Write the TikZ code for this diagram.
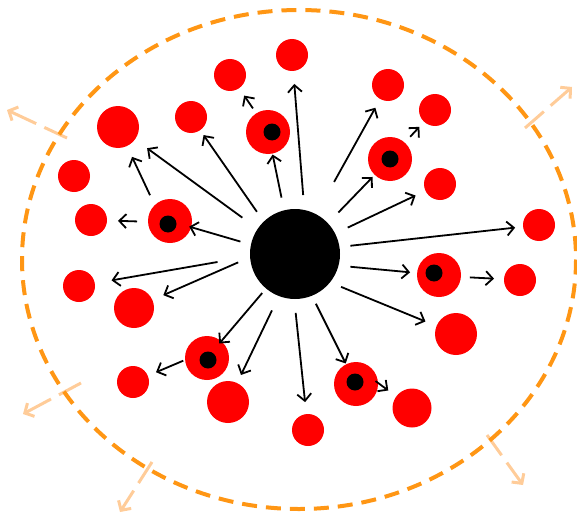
\documentclass[tikz,border=0pt]{standalone}
\usetikzlibrary{arrows.meta}
\definecolor{cellred}{RGB}{255,0,0}
\definecolor{ringorange}{RGB}{255,150,20}
\definecolor{peach}{RGB}{255,204,153}
\tikzset{
  cell/.style={circle, fill=cellred, draw=none, inner sep=0pt, outer sep=0pt, minimum size=#1},
  cell/.default=32pt,
  dotk/.style={circle, fill=black, draw=none, inner sep=0pt, outer sep=0pt, minimum size=17pt},
  arr/.style={line width=1.8pt, -{Straight Barb[length=7pt,width=14pt,line width=1.8pt]}},
  escape/.style={draw=peach, line width=3pt, dash pattern=on 25pt off 9pt on 60pt off 1pt,
     -{Straight Barb[length=7pt,width=15pt,line width=3pt]}},
  boundary/.style={draw=ringorange, line width=4pt, dash pattern=on 15pt off 9pt}
}
\begin{document}
\begin{tikzpicture}[x=1pt,y=-1pt]
\useasboundingbox (0,0) rectangle (577,516);
% escaping arrows
\coordinate (p1s) at (67,138);  \coordinate (p1e) at (7,110);
\coordinate (p2s) at (525,128); \coordinate (p2e) at (572,87);
\coordinate (p3s) at (81,383);  \coordinate (p3e) at (23,414);
\coordinate (p4s) at (152,462); \coordinate (p4e) at (120,512);
\coordinate (p5s) at (487,435); \coordinate (p5e) at (523,485);
\draw[escape] (p1s) -- (p1e);
\draw[escape] (p2s) -- (p2e);
\draw[escape] (p3s) -- (p3e);
\draw[escape] (p4s) -- (p4e);
\draw[escape] (p5s) -- (p5e);
% boundary
\coordinate (E) at (299,259.5);
\draw[boundary] (E) ellipse [x radius=277, y radius=249.5];
% central
\node[circle, fill=black, inner sep=0pt, outer sep=0pt, minimum size=90pt] (C) at (295,254) {};
% cells
\node[cell] (n1) at (230,75) {};
\node[cell=42pt] (n2) at (118,127) {};
\node[cell] (n3) at (191,117) {};
\node[cell] (n4) at (74,176) {};
\node[cell] (n5) at (91,220) {};
\node[cell] (n6) at (292,55) {};
\node[cell] (n7) at (388,85) {};
\node[cell] (n8) at (435,110) {};
\node[cell] (n9) at (440,184) {};
\node[cell] (n10) at (539,225) {};
\node[cell] (n11) at (79,286) {};
\node[cell=40pt] (n12) at (134,308) {};
\node[cell] (n13) at (133,382) {};
\node[cell=42pt] (n14) at (228,402) {};
\node[cell] (n15) at (520,280) {};
\node[cell=42pt] (n16) at (456,334) {};
\node[cell=39pt] (n17) at (412,408) {};
\node[cell] (n18) at (308,430) {};
% infected cells
\node[cell=44pt] (i1) at (170,221) {}; \node[dotk] (k1) at (168,224) {};
\node[cell=44pt] (i2) at (268,132) {}; \node[dotk] (k2) at (272,132) {};
\node[cell=44pt] (i3) at (390,159) {}; \node[dotk] (k3) at (390,159) {};
\node[cell=44pt] (i4) at (207,358) {}; \node[dotk] (k4) at (208,360) {};
\node[cell=44pt] (i5) at (439,275) {}; \node[dotk] (k5) at (434,273) {};
\node[cell=44pt] (i6) at (356,384) {}; \node[dotk] (k6) at (355,382) {};
% arrows
\draw[arr, shorten <=12pt, shorten >=6pt] (C.134) -- (n3);
\draw[arr, shorten <=19pt, shorten >=15pt] (C.146) -- (n2);
\draw[arr, shorten <=11pt, shorten >=12pt] (i1.134) -- (n2);
\draw[arr, shorten <=11pt, shorten >=-2pt] (C.168) -- (i1);
\draw[arr, shorten <=11pt, shorten >=11pt] (i1.182) -- (n5);
\draw[arr, shorten <=13pt, shorten >=1pt] (C.104) -- (i2);
\draw[arr, shorten <=6pt, shorten >=9pt] (i2.122) -- (n1);
\draw[arr, shorten <=15pt, shorten >=13pt] (C.78) -- (n6);
\draw[arr, shorten <=37pt, shorten >=10pt] (C.62) -- (n7);
\draw[arr, shorten <=15pt, shorten >=3pt] (C.43) -- (i3);
\draw[arr, shorten <=8pt, shorten >=7pt] (i3.48) -- (n8);
\draw[arr, shorten <=14pt, shorten >=11pt] (C.27) -- (n9);
\draw[arr, shorten <=11pt, shorten >=8pt] (C.9) -- (n10);
\draw[arr, shorten <=33pt, shorten >=17pt] (C.183) -- (n11);
\draw[arr, shorten <=13pt, shorten >=12pt] (C.184) -- (n12);
\draw[arr, shorten <=6pt, shorten >=-3pt] (C.230) -- (i4);
\draw[arr, shorten <=2pt, shorten >=9pt] (i4.185) -- (n13);
\draw[arr, shorten <=16pt, shorten >=9pt] (C.249) -- (n14);
\draw[arr, shorten <=12pt, shorten >=7pt] (C.-15) -- (i5);
\draw[arr, shorten <=9pt, shorten >=10pt] (i5.-5) -- (n15);
\draw[arr, shorten <=12pt, shorten >=12pt] (C.-39) -- (n16);
\draw[arr, shorten <=9pt, shorten >=1pt] (C.-68) -- (i6);
\draw[arr, shorten <=-3pt, shorten >=10pt] (i6.3) -- (n17);
\draw[arr, shorten <=14pt, shorten >=12pt] (C.-91) -- (n18);
\end{tikzpicture}
\end{document}
